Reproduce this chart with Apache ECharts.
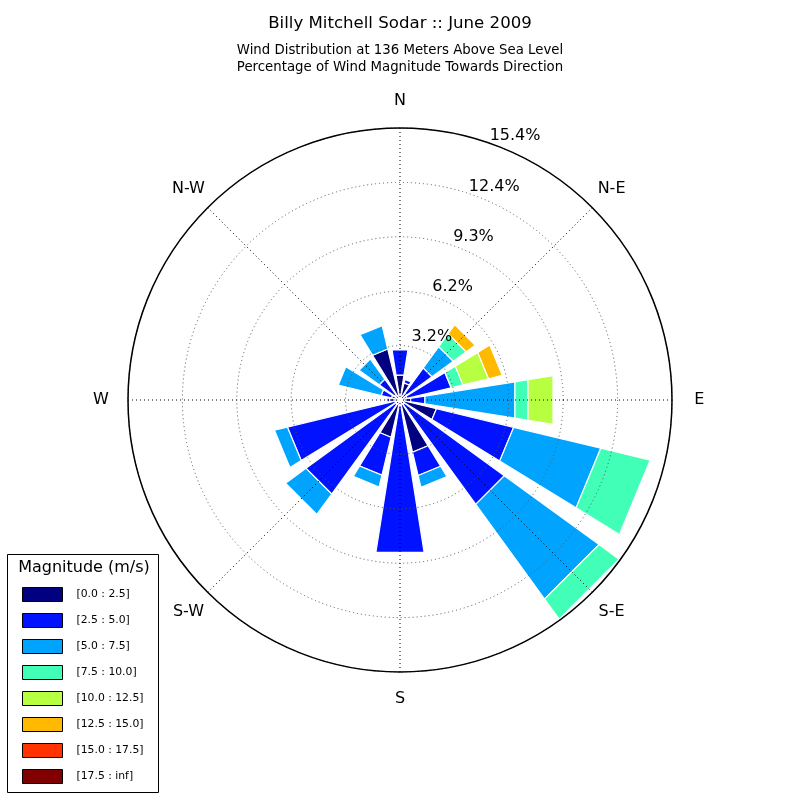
<!DOCTYPE html>
<html>
<head>
<meta charset="utf-8">
<script src="https://cdn.jsdelivr.net/npm/echarts@6/dist/echarts.min.js"></script>
<style>html,body{margin:0;padding:0;background:#fff}#chart{width:800px;height:800px}</style>
</head>
<body>
<div id="chart"></div>
<script>
// ---- data ----
const directions = ['N','NNE','NE','ENE','E','ESE','SE','SSE','S','SSW','SW','WSW','W','WNW','NW','NNW'];
const compassLabels = ['N','N-E','E','S-E','S','S-W','W','N-W'];
const compassAngles = [0,45,90,135,180,225,270,315];
const binNames = ['[0.0 : 2.5]','[2.5 : 5.0]','[5.0 : 7.5]','[7.5 : 10.0]','[10.0 : 12.5]','[12.5 : 15.0]','[15.0 : 17.5]','[17.5 : inf]'];
// percentage of time per direction for each magnitude bin (N, NNE, ... NNW)
const bin0 = [1.43,1.00,0.46,0.40,0.63,2.12,0.30,3.04,0.30,2.17,0.30,0.30,0.60,0.50,0.40,2.97];
const bin1 = [1.44,0.20,1.78,2.58,0.80,4.50,7.00,1.36,8.43,2.21,6.28,6.26,0.15,0.60,1.06,0.00];
const bin2 = [0,0,1.49,0,5.16,5.07,6.63,0.69,0,0.69,1.43,0.75,0,2.50,1.41,1.36];
const bin3 = [0,0,0.91,0.69,0.75,2.88,1.40,0,0,0,0,0,0,0,0,0];
const bin4 = [0,0,0,1.49,1.43,0,0,0,0,0,0,0,0,0,0,0];
const bin5 = [0,0,0.63,0.80,0,0,0,0,0,0,0,0,0,0,0,0];
const bin6 = [0,0,0,0,0,0,0,0,0,0,0,0,0,0,0,0];
const bin7 = [0,0,0,0,0,0,0,0,0,0,0,0,0,0,0,0];
const rMax = 15.4;
const ringValues = [3.08, 6.16, 9.24, 12.32, 15.4];
const ringLabels = ['3.2%','6.2%','9.3%','12.4%','15.4%'];

// ---- styles ----
const colors = ['#000080','#0012ff','#00a4ff','#41ffb6','#b6ff41','#ffb900','#ff3200','#800000'];
const FONT = 'DejaVu Sans';
const bins = [bin0,bin1,bin2,bin3,bin4,bin5,bin6,bin7];
const sector = 360 / directions.length;
const halfW = sector * 0.8 / 2;
const labelRadius = rMax * 1.1;

const cum = directions.map(() => 0);
const barSeries = bins.map((vals, b) => {
  const data = vals.map((v, i) => {
    const r0 = cum[i];
    cum[i] += v;
    return [i * sector, r0, cum[i]];
  });
  return {
    type: 'custom',
    name: binNames[b],
    coordinateSystem: 'polar',
    itemStyle: { color: colors[b] },
    encode: { angle: 0, radius: 2 },
    data: data,
    z: 2,
    renderItem: function (params, api) {
      const a = api.value(0), r0 = api.value(1), r1 = api.value(2);
      if (!(r1 - r0 > 0)) return null;
      const pts = [
        api.coord([r0, a - halfW]),
        api.coord([r1, a - halfW]),
        api.coord([r1, a + halfW]),
        api.coord([r0, a + halfW])
      ];
      return {
        type: 'polygon',
        shape: { points: pts },
        style: { fill: colors[b], stroke: '#ffffff', lineWidth: 1.2 }
      };
    }
  };
});

const ringSeries = {
  type: 'custom',
  name: 'rings',
  coordinateSystem: 'polar',
  silent: true,
  encode: { radius: 0, angle: 1 },
  data: ringValues.map(v => [v, 22.5]),
  z: 20,
  renderItem: function (params, api) {
    const p = api.coord([api.value(0), 22.5]);
    return {
      type: 'text',
      x: p[0] + 11,
      y: p[1] - 12.5,
      style: {
        text: ringLabels[params.dataIndex],
        align: 'center', verticalAlign: 'middle',
        fontSize: 16, fontFamily: FONT, fill: '#000'
      }
    };
  }
};

const compassSeries = {
  type: 'custom',
  name: 'compass',
  coordinateSystem: 'polar',
  silent: true,
  encode: { radius: 0, angle: 1 },
  data: compassAngles.map(a => [labelRadius, a]),
  z: 20,
  renderItem: function (params, api) {
    const p = api.coord([api.value(0), api.value(1)]);
    return {
      type: 'text',
      x: p[0],
      y: p[1],
      style: {
        text: compassLabels[params.dataIndex],
        align: 'center', verticalAlign: 'middle',
        fontSize: 16, fontFamily: FONT, fill: '#000'
      }
    };
  }
};

const chart = echarts.init(document.getElementById('chart'), null, { renderer: 'canvas' });
chart.setOption({
  animation: false,
  backgroundColor: '#fff',
  title: {
    text: 'Billy Mitchell Sodar :: June 2009',
    subtext: 'Wind Distribution at 136 Meters Above Sea Level\nPercentage of Wind Magnitude Towards Direction',
    left: 'center',
    top: 10,
    itemGap: 10,
    textStyle: { fontFamily: FONT, fontSize: 16.6, fontWeight: 'normal', color: '#000' },
    subtextStyle: { fontFamily: FONT, fontSize: 13.3, color: '#000', lineHeight: 17 }
  },
  polar: { center: [400, 400], radius: 272 },
  angleAxis: {
    type: 'value',
    min: 0, max: 360, interval: 45,
    startAngle: 90, clockwise: true,
    z: 10,
    axisLine: { show: true, lineStyle: { color: '#000', width: 1.5 } },
    axisTick: { show: false },
    axisLabel: { show: false },
    splitLine: { show: true, lineStyle: { color: '#000', width: 1, type: [1, 3] } }
  },
  radiusAxis: {
    type: 'value',
    min: 0, max: rMax, interval: 3.08,
    z: 10,
    axisLine: { show: false },
    axisTick: { show: false },
    axisLabel: { show: false },
    splitLine: { show: true, lineStyle: { color: '#555', width: 1, type: [1, 3] } }
  },
  legend: {
    orient: 'vertical',
    left: 22, top: 587,
    padding: 0,
    itemWidth: 40, itemHeight: 14, itemGap: 11,
    icon: 'rect',
    selectedMode: false,
    itemStyle: { borderColor: '#000', borderWidth: 1 },
    textStyle: { fontFamily: FONT, fontSize: 10.8, color: '#000', padding: [0, 0, 0, 9] },
    data: binNames
  },
  graphic: [
    { type: 'rect', z: 0, shape: { x: 7.5, y: 554.5, width: 151, height: 238 },
      style: { fill: '#fff', stroke: '#000', lineWidth: 1 } },
    { type: 'text', z: 1, x: 84, y: 568,
      style: { text: 'Magnitude (m/s)', align: 'center', verticalAlign: 'middle',
               fontFamily: FONT, fontSize: 16, fill: '#000' } }
  ],
  series: barSeries.concat([ringSeries, compassSeries])
});
</script>
</body>
</html>
